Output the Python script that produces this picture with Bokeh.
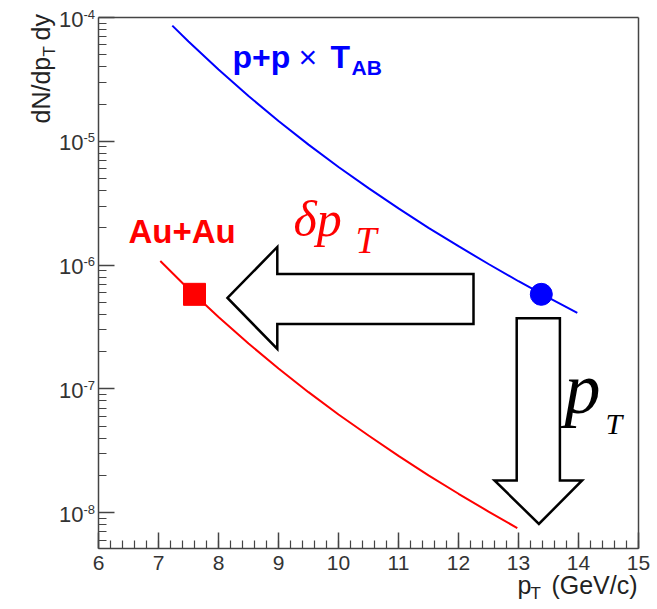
import numpy as np
from bokeh.plotting import figure
from bokeh.models import (Range1d, FixedTicker, SingleIntervalTicker, Label,
                          ColumnDataSource, CustomJSTickFormatter)
from bokeh.core.properties import value
from bokeh.embed import file_html
from bokeh.resources import INLINE

# ---- data ----
pp_pt = [7.23, 7.5, 8.0, 8.5, 9.0, 9.5, 10.0, 10.5, 11.0, 11.5, 12.0, 12.5, 13.0, 13.5, 13.98]
pp_y = [8.6e-5, 6.4e-5, 3.8e-5, 2.32e-5, 1.46e-5, 9.4e-6, 6.2e-6, 4.18e-6, 2.87e-6,
        2.0e-6, 1.42e-6, 1.02e-6, 7.4e-7, 5.46e-7, 4.1e-7]
aa_pt = [7.03, 7.5, 8.0, 8.5, 9.0, 9.5, 10.0, 10.5, 11.0, 11.5, 12.0, 12.5, 12.98]
aa_y = [1.08e-6, 6.4e-7, 3.8e-7, 2.32e-7, 1.46e-7, 9.4e-8, 6.2e-8, 4.2e-8, 2.87e-8,
        2.0e-8, 1.42e-8, 1.02e-8, 7.5e-9]
pp_marker_pt = [13.38]
pp_marker_y = [5.8e-7]
aa_marker_pt = [7.6]
aa_marker_y = [5.8e-7]

shift_arrow_x = [8.15, 8.98, 8.98, 12.25, 12.25, 8.98, 8.98]
shift_arrow_y = [5.42e-7, 1.40e-6, 8.45e-7, 8.45e-7, 3.34e-7, 3.34e-7, 2.10e-7]
loss_arrow_x = [12.97, 13.69, 13.69, 14.06, 13.34, 12.6, 12.97]
loss_arrow_y = [3.72e-7, 3.72e-7, 1.82e-8, 1.82e-8, 8.1e-9, 1.82e-8, 1.82e-8]

x_major = [6, 7, 8, 9, 10, 11, 12, 13, 14, 15]
x_tick_labels = ["6", "7", "8", "9", "10", "11", "12", "13", "14", "15"]
y_major = [1e-8, 1e-7, 1e-6, 1e-5, 1e-4]
y_tick_base = ["10", "10", "10", "10", "10"]
y_tick_exp = ["-8", "-7", "-6", "-5", "-4"]

X_MIN, X_MAX = 6.0, 15.0          # axis extent
Y_MIN, Y_MAX = 5.13e-9, 1e-4      # axis extent

# ---- layout: the frame covers the whole canvas so that axis titles are drawn
#      inside it; the axes themselves sit at fixed locations ----
W, H = 655, 607
BL, BB = 10, 0                      # borders left / bottom
PX_X = 60.0                         # pixels per GeV/c
PX_DEC = 123.78                     # pixels per decade
AX_L, AX_T = 98, 17                 # page position of the axis corner (left, top)
x_start = X_MIN - (AX_L - BL) / PX_X
x_end = X_MIN + (W - AX_L) / PX_X
y_end = 10 ** (np.log10(Y_MAX) + AX_T / PX_DEC)
y_start = 10 ** (np.log10(Y_MAX) - (H - BB - AX_T) / PX_DEC)
BASE_SHIFT = 0.34                   # renderer draws the text anchor ~0.34 em above baseline


def at(px, py):
    """page pixel -> data coordinates (for annotation placement)"""
    return X_MIN + (px - AX_L) / PX_X, 10 ** (np.log10(Y_MAX) - (py - AX_T) / PX_DEC)


p = figure(width=W, height=H, x_range=Range1d(x_start, x_end),
           y_range=Range1d(y_start, y_end), y_axis_type="log",
           output_backend="svg", toolbar_location=None, title=None,
           min_border_left=BL, min_border_right=0, min_border_top=0,
           min_border_bottom=BB)
p.grid.visible = False
p.outline_line_color = None
p.background_fill_color = "white"
p.border_fill_color = "white"

AX_COL = "#444444"
xa = p.xaxis[0]
xa.ticker = SingleIntervalTicker(interval=1, num_minor_ticks=5)
xa.fixed_location = Y_MIN
xa.bounds = (X_MIN, X_MAX)
ya = p.yaxis[0]
y_minor = [m * 10.0 ** e for e in range(-9, -4) for m in range(2, 10)
           if Y_MIN <= m * 10.0 ** e <= Y_MAX]
ya.ticker = FixedTicker(ticks=y_major, minor_ticks=y_minor)
ya.fixed_location = X_MIN
ya.bounds = (Y_MIN, Y_MAX)
for ax in (xa, ya):
    ax.major_tick_in = 16
    ax.major_tick_out = 0
    ax.minor_tick_in = 8
    ax.minor_tick_out = 0
    ax.axis_line_color = AX_COL
    ax.axis_line_width = 1.5
    ax.major_tick_line_color = AX_COL
    ax.minor_tick_line_color = AX_COL
    ax.major_tick_line_width = 1.5
    ax.minor_tick_line_width = 1.2
    # tick labels are drawn below as text glyphs (so the titles can sit outside them)
    ax.formatter = CustomJSTickFormatter(code="return ''")
    ax.major_label_text_font_size = "1px"
    ax.major_label_standoff = 0

# frame top / right edges
p.segment(x0=[X_MIN, X_MAX], y0=[Y_MAX, Y_MIN], x1=[X_MAX, X_MAX], y1=[Y_MAX, Y_MAX],
          line_color=AX_COL, line_width=1.5)

# tick labels, placed from the tick values
xt = ColumnDataSource(dict(x=x_major, y=[Y_MIN] * len(x_major), t=x_tick_labels))
p.text("x", "y", text="t", source=xt, text_font=value("Liberation Sans"),
       text_font_size="21px", text_color="#333333", text_align="center",
       text_baseline="alphabetic", y_offset=22 - BASE_SHIFT * 21)
yt = ColumnDataSource(dict(x=[X_MIN] * len(y_major), y=y_major, b=y_tick_base, e=y_tick_exp))
p.text("x", "y", text="b", source=yt, text_font=value("Liberation Sans"),
       text_font_size="22px", text_color="#333333", text_align="right",
       text_baseline="alphabetic", x_offset=-15, y_offset=9 - BASE_SHIFT * 22)
p.text("x", "y", text="e", source=yt, text_font=value("Liberation Sans"),
       text_font_size="13px", text_color="#333333", text_align="left",
       text_baseline="alphabetic", x_offset=-15, y_offset=1 - BASE_SHIFT * 13)

# ---- marks ----
p.line(pp_pt, pp_y, line_color="#0000ff", line_width=2)
p.line(aa_pt, aa_y, line_color="#ff0000", line_width=2)
p.scatter(pp_marker_pt, pp_marker_y, marker="circle", size=22, color="#0000ff")
p.scatter(aa_marker_pt, aa_marker_y, marker="square", size=22, color="#ff0000")
p.patch(shift_arrow_x, shift_arrow_y, fill_color="white", line_color="black",
        line_width=2.5, line_join="miter")
p.patch(loss_arrow_x, loss_arrow_y, fill_color="white", line_color="black",
        line_width=2.5, line_join="miter")


def lab(text, px, py, size, color, font="Liberation Sans", style="normal",
        rotated=False, align="left"):
    if rotated:
        px = px - BASE_SHIFT * size
    else:
        py = py - BASE_SHIFT * size
    x, y = at(px, py)
    p.add_layout(Label(x=x, y=y, text=text, text_font=font, text_font_size=f"{size}px",
                       text_font_style=style, text_color=color,
                       angle=np.pi / 2 if rotated else 0.0,
                       text_align=align, text_baseline="alphabetic"))


# annotations
lab("p+p", 232, 67, 32, "#0000ff", style="bold")
lab("\u00d7", 298, 67, 32, "#0000ff")
lab("T", 330, 67, 32, "#0000ff", style="bold")
lab("AB", 351, 74, 21, "#0000ff", style="bold")
lab("Au+Au", 128, 242, 33, "#ff0000", style="bold")
lab("\u03b4p", 293, 235, 50, "#ff0000", font="Liberation Serif", style="italic")
lab("T", 355, 252, 38, "#ff0000", font="Liberation Serif", style="italic")
lab("p", 564, 413, 72, "#000000", font="Liberation Serif", style="italic")
lab("T", 605, 433, 30, "#000000", font="Liberation Serif", style="italic")

# axis titles
lab("p", 517, 593, 25, "#222222")
lab("T", 530, 599, 17, "#222222")
lab("(GeV/c)", 637, 593, 25, "#222222", align="right")
lab("dN/dp", 49, 123, 25, "#222222", rotated=True)
lab("T", 55, 56, 17, "#222222", rotated=True)
lab("dy", 49, 40, 25, "#222222", rotated=True)

open("out.html", "w").write(file_html(p, INLINE))
